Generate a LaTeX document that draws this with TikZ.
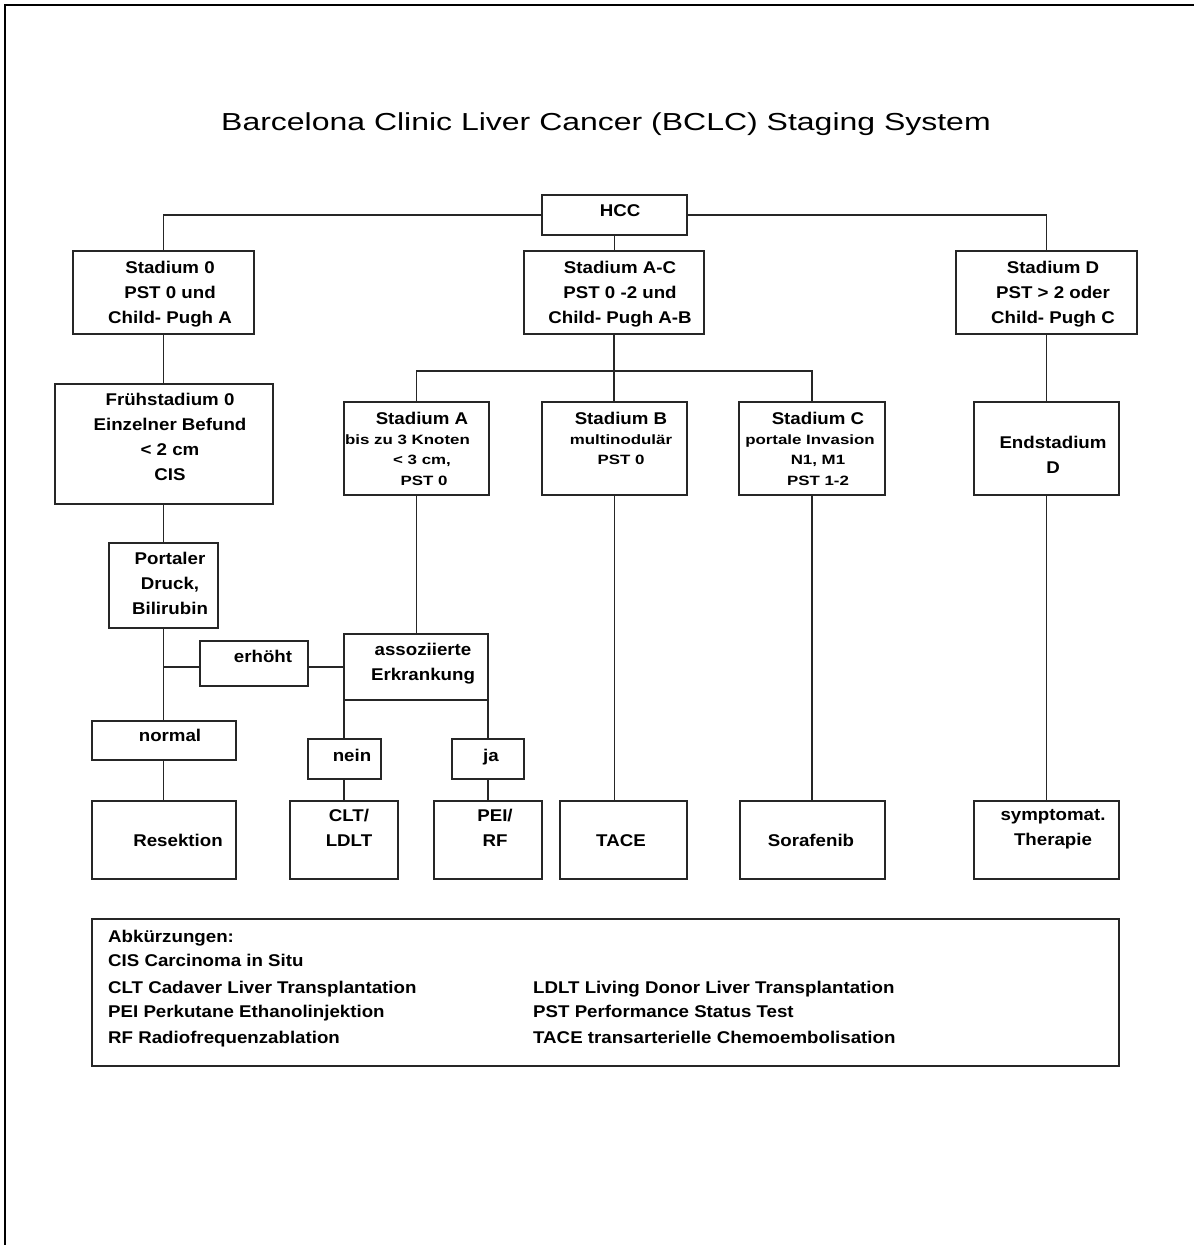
\documentclass[tikz,border=0pt]{standalone}
\usepackage{fontspec}
\newfontfamily\titlef[FakeStretch=1.3]{Liberation Sans}
\newfontfamily\boxf[FakeStretch=1.1]{Liberation Sans}
\newfontfamily\smallf[FakeStretch=1.25]{Liberation Sans}
\newcommand\bx[5]{\node[box, minimum width={(#4-#2)*1pt}, minimum height={(#5-#3)*1pt}] (#1) at ({(#2+#4)/2},{(#3+#5)/2}) {};}
\begin{document}
\begin{tikzpicture}[x=1pt,y=-1pt,
  box/.style={draw=black!85, line width=1.3pt, inner sep=0pt, outer sep=0pt, rectangle},
  conn/.style={draw=black!85, line width=1.4pt},
  txt/.style={inner sep=0pt, align=center, anchor=north, font=\boxf\bfseries\fontsize{17}{25}\selectfont},
  small/.style={inner sep=0pt, align=center, anchor=north, font=\smallf\bfseries\fontsize{13.5}{20}\selectfont},
  abk/.style={inner sep=0pt, anchor=base west, font=\boxf\bfseries\fontsize{17}{25}\selectfont}]
\useasboundingbox (0,0) rectangle (1194,1245);
\fill[white] (0,0) rectangle (1194,1245);
% page border (left and top)
\draw[line width=2.2pt] (5,1245) -- (5,5) -- (1194,5);
% title
\node[font=\titlef\fontsize{24.6}{28}\selectfont, anchor=base, inner sep=0pt] (title) at (606,130) {Barcelona Clinic Liver Cancer (BCLC) Staging System};
% boxes
\bx{hcc}{542}{195}{687}{235}
\bx{s0}{73}{251}{254}{334}
\bx{sac}{524}{251}{704}{334}
\bx{sd}{956}{251}{1137}{334}
\bx{fr}{55}{384}{273}{504}
\bx{sa}{344}{402}{489}{495}
\bx{sb}{542}{402}{687}{495}
\bx{sc}{739}{402}{885}{495}
\bx{ed}{974}{402}{1119}{495}
\bx{port}{109}{543}{218}{628}
\bx{erh}{200}{641}{308}{686}
\bx{ass}{344}{634}{488}{700}
\bx{norm}{92}{721}{236}{760}
\bx{nein}{308}{739}{381}{779}
\bx{ja}{452}{739}{524}{779}
\bx{res}{92}{801}{236}{879}
\bx{clt}{290}{801}{398}{879}
\bx{pei}{434}{801}{542}{879}
\bx{tace}{560}{801}{687}{879}
\bx{sor}{740}{801}{885}{879}
\bx{sym}{974}{801}{1119}{879}
\bx{abkbox}{92}{919}{1119}{1066}
% texts
\node[txt] (hcct) at (620,204.5) {HCC};
\node[txt] (s0t) at (170,261) {Stadium 0\\PST 0 und\\Child- Pugh A};
\node[txt] (sact) at (620,261) {Stadium A-C\\PST 0 -2 und\\Child- Pugh A-B};
\node[txt] (sdt) at (1053,261) {Stadium D\\PST > 2 oder\\Child- Pugh C};
\node[txt] (frt) at (170,393) {Frühstadium 0\\Einzelner Befund\\< 2 cm\\CIS};
\node[txt] (sat1) at (422,412) {Stadium A};
\node[small] (sat2) at (407.5,435) {bis zu 3 Knoten};
\node[small] (sat3) at (422,455) {< 3 cm,};
\node[small] (sat4) at (424,476) {PST 0};
\node[txt] (sbt1) at (621,412) {Stadium B};
\node[small] (sbt2) at (621,435) {multinodulär};
\node[small] (sbt3) at (621,455) {PST 0};
\node[txt] (sct1) at (818,412) {Stadium C};
\node[small] (sct2) at (810,435) {portale Invasion};
\node[small] (sct3) at (818,455) {N1, M1};
\node[small] (sct4) at (818,476) {PST 1-2};
\node[txt] (edt) at (1053,436) {Endstadium\\D};
\node[txt] (portt) at (170,552) {Portaler\\Druck,\\Bilirubin};
\node[txt] (erht) at (263,650) {erhöht};
\node[txt] (asst) at (423,643) {assoziierte\\Erkrankung};
\node[txt] (normt) at (170,729) {normal};
\node[txt] (neint) at (352,749) {nein};
\node[txt] (jat) at (491,749) {ja};
\node[txt] (resu) at (178,834) {Resektion};
\node[txt] (cltt) at (349,809) {CLT/\\LDLT};
\node[txt] (peit) at (495,809) {PEI/\\RF};
\node[txt] (tacet) at (621,834) {TACE};
\node[txt] (sort) at (811,834) {Sorafenib};
\node[txt] (symt) at (1053,809) {symptomat.\\Therapie};
% abbreviations
\node[abk] (a0) at (108,942) {Abkürzungen:};
\node[abk] (a1) at (108,966) {CIS Carcinoma in Situ};
\node[abk] (a2) at (108,993) {CLT Cadaver Liver Transplantation};
\node[abk] (a3) at (108,1017) {PEI Perkutane Ethanolinjektion};
\node[abk] (a4) at (108,1043) {RF Radiofrequenzablation};
\node[abk] (b2) at (533,993) {LDLT Living Donor Liver Transplantation};
\node[abk] (b3) at (533,1017) {PST Performance Status Test};
\node[abk] (b4) at (533,1043) {TACE transarterielle Chemoembolisation};
% connectors
\coordinate (bar) at (614,371);
\draw[conn] (hcc.west) -| (s0.north);
\draw[conn] (hcc.east) -| (sd.north);
\draw[conn] (hcc.south) -- (hcc.south |- sac.north);
\draw[conn] (sac.south) -- (sac.south |- sb.north);
\draw[conn] (sa.north) -- (sa.north |- bar) -- (sc.north |- bar) -- (sc.north);
\draw[conn] (s0.south) -- (s0.south |- fr.north);
\draw[conn] (sd.south) -- (sd.south |- ed.north);
\draw[conn] (s0.south |- fr.south) -- (s0.south |- port.north);
\draw[conn] (s0.south |- port.south) -- (s0.south |- norm.north);
\draw[conn] (s0.south |- norm.south) -- (s0.south |- res.north);
\draw[conn] (s0.south |- ass.west) -- (erh.west |- ass.west);
\draw[conn] (erh.east |- ass.west) -- (ass.west);
\draw[conn] (sa.south) -- (sa.south |- ass.north);
\draw[conn] (ass.south west) -- (ass.south west |- nein.north);
\draw[conn] (ass.south east) -- (ass.south east |- ja.north);
\draw[conn] (ass.south west |- nein.south) -- (ass.south west |- clt.north);
\draw[conn] (ass.south east |- ja.south) -- (ass.south east |- pei.north);
\draw[conn] (sb.south) -- (sb.south |- tace.north);
\draw[conn] (sc.south) -- (sc.south |- sor.north);
\draw[conn] (ed.south) -- (ed.south |- sym.north);
\end{tikzpicture}
\end{document}
